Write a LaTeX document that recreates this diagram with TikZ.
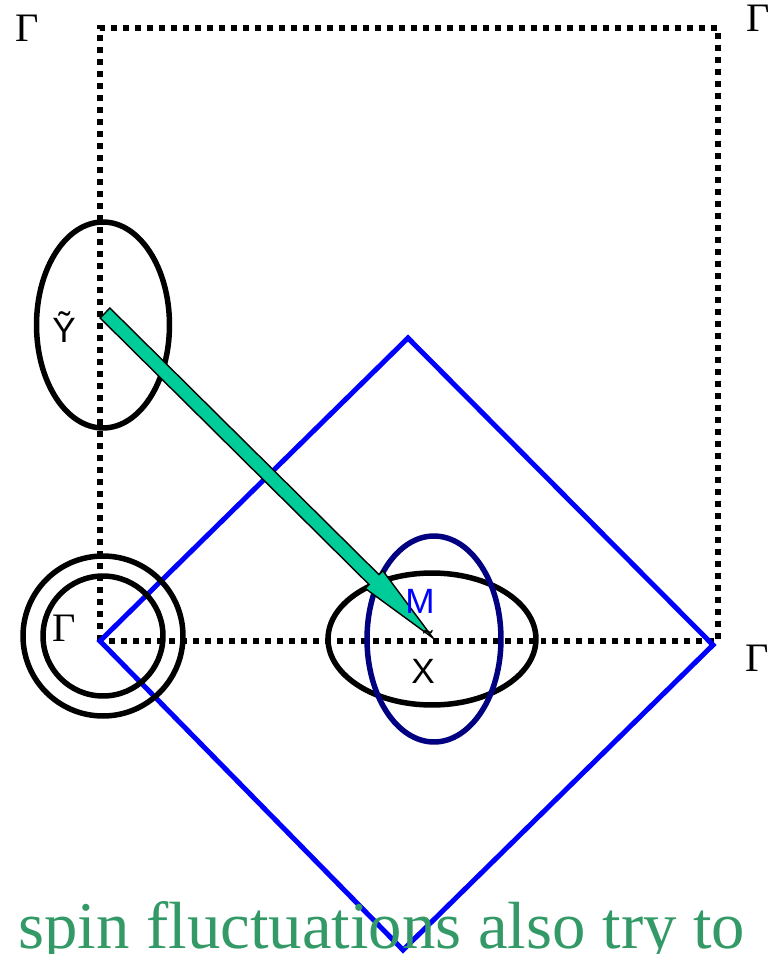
\documentclass[tikz,border=0pt]{standalone}
\usepackage{fontspec}
\setmainfont{Liberation Serif}
\setsansfont{Liberation Sans}
\usetikzlibrary{calc,positioning}
\definecolor{nestgreen}{HTML}{00CC99}
\definecolor{slogan}{HTML}{339966}
\definecolor{fsnavy}{HTML}{000080}

\begin{document}
\begin{tikzpicture}[x=0.02cm,y=-0.02cm,
    bzone/.style={line width=0.12cm, dash pattern=on 0.12cm off 0.12cm},
    pocket/.style={line width=0.11cm},
    gsym/.style={font=\fontsize{23}{25}\selectfont, inner sep=0pt},
    kpt/.style={font=\sffamily\fontsize{20}{22}\selectfont, inner sep=0pt}]
    \useasboundingbox (0,0) rectangle (775,954);
    \coordinate (G) at (100,641);
    \coordinate (Gtop) at (100,28);
    \coordinate (Gcorner) at (718,28);
    \coordinate (Gright) at (718,641);
    \coordinate (Mtop) at (408,338);
    \coordinate (Mright) at (713,645);
    \coordinate (Mbot) at (403,950);
    \coordinate (Ys) at (105,313);
    \coordinate (Xs) at (433,638);

    \draw[bzone] (G) -- (Gtop) -- (Gcorner) -- (Gright) -- cycle;
    \draw[blue, line width=0.1cm, line join=miter] (G) -- (Mtop) -- (Mright) -- (Mbot) -- cycle;

    \draw[pocket] (103,325) ellipse [x radius=1.33cm, y radius=2.06cm];
    \draw[pocket] (103,636) circle [radius=1.6cm];
    \draw[pocket] (103,636) circle [radius=1.2cm];
    \draw[pocket] (432,639) ellipse [x radius=2.08cm, y radius=1.32cm];
    \draw[pocket, fsnavy] (434,639) ellipse [x radius=1.34cm, y radius=2.06cm];

    \coordinate (hb) at ($(Xs)!1.66cm!(Ys)$);
    \draw[fill=nestgreen, line width=0.8pt, line join=miter]
        ($(Ys)!0.14cm!-90:(Xs)$) -- ($(hb)!0.14cm!-90:(Xs)$) -- ($(hb)!0.25cm!-90:(Xs)$)
        -- (Xs) -- ($(hb)!0.25cm!90:(Xs)$) -- ($(hb)!0.14cm!90:(Xs)$)
        -- ($(Ys)!0.14cm!90:(Xs)$) -- cycle;

    \node[gsym] (g1) at (27,28) {Γ};
    \node[gsym] (g2) at (758,18) {Γ};
    \node[gsym] (g3) at (757,658) {Γ};
    \node[gsym] (g0) at (64,628) {Γ};
    \node[kpt] (ylab) at (64,327) {Ỹ};
    \node[kpt, text=blue] (mlab) at (420,601) {M};
    \node[kpt] (xlab) at (423,671) {X};
    \node[kpt, font=\sffamily\fontsize{16}{18}\selectfont] (xtl) at (428,640) {˜};
    \node[anchor=base west, inner sep=0pt, text=slogan, font=\fontsize{38}{40}\selectfont]
        (say) at (18,948) {spin fluctuations also try to};
\end{tikzpicture}
\end{document}
